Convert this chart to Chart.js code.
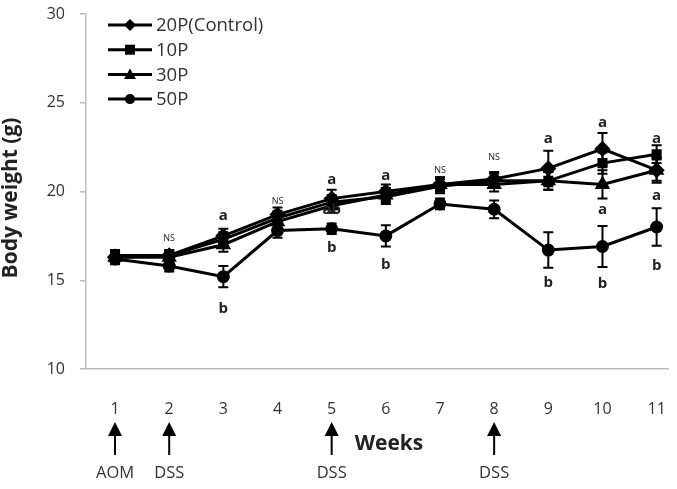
<!DOCTYPE html>
<html>
<head>
<meta charset="utf-8">
<script src="https://cdn.jsdelivr.net/npm/chart.js@4.4.0/dist/chart.umd.min.js"></script>
<style>
  html, body { margin: 0; padding: 0; background: #fff; }
  #wrap { width: 677px; height: 489px; }
</style>
</head>
<body>
<div id="wrap"><canvas id="BodyWeightChart" width="677" height="489"></canvas></div>
<script>
// weeks on the x axis
var weeks = [1, 2, 3, 4, 5, 6, 7, 8, 9, 10, 11];
var yTicks = [10, 15, 20, 25, 30];

// mean body weight (g)
var control20P = [16.3, 16.4, 17.5, 18.7, 19.6, 20.0, 20.4, 20.7, 21.3, 22.4, 21.2];
var group10P   = [16.4, 16.4, 17.3, 18.5, 19.4, 19.7, 20.3, 20.6, 20.6, 21.6, 22.1];
var group30P   = [16.3, 16.3, 17.0, 18.3, 19.2, 19.8, 20.4, 20.4, 20.6, 20.4, 21.2];
var group50P   = [16.2, 15.8, 15.2, 17.8, 17.9, 17.5, 19.3, 19.0, 16.7, 16.9, 18.0];

// error bars (g)
var err20P = [0.3, 0.3, 0.4, 0.4, 0.5, 0.4, 0.4, 0.4, 1.0, 0.9, 0.6];
var err10P = [0.3, 0.3, 0.4, 0.4, 0.4, 0.4, 0.4, 0.4, 0.5, 0.6, 0.5];
var err30P = [0.3, 0.3, 0.4, 0.4, 0.4, 0.4, 0.4, 0.4, 0.5, 0.8, 0.7];
var err50P = [0.3, 0.3, 0.6, 0.4, 0.3, 0.6, 0.3, 0.5, 1.0, 1.15, 1.05];

// significance letters: week, text, y value
var sigWeek  = [2, 3, 3, 4, 5, 5, 5, 6, 6, 7, 8, 9, 9, 10, 10, 10, 11, 11, 11];
var sigText  = ['NS', 'a', 'b', 'NS', 'a', 'ab', 'b', 'a', 'b', 'NS', 'NS', 'a', 'b', 'a', 'a', 'b', 'a', 'a', 'b'];
var sigValue = [17.35, 18.65, 13.4, 19.45, 20.65, 19.0, 16.85, 20.9, 15.9, 21.2, 21.9, 23.0, 14.85, 23.9, 19.0, 14.8, 23.0, 19.75, 15.8];

// treatment arrows under the axis
var eventWeek = [1, 2, 5, 8];
var eventText = ['AOM', 'DSS', 'DSS', 'DSS'];

var seriesNames = ['20P(Control)', '10P', '30P', '50P'];
var seriesVals = [control20P, group10P, group30P, group50P];
var seriesErr = [err20P, err10P, err30P, err50P];
var seriesMarks = ['rectRot', 'rect', 'triangle', 'circle'];
var markSize = [6, 5, 6, 5];

var FONT = '"Open Sans", "Liberation Sans", sans-serif';

var datasets = [];
for (var s = 0; s < seriesNames.length; s++) {
    datasets.push({
        label: seriesNames[s],
        data: weeks.map(function (w, i) { return { x: w, y: seriesVals[s][i] }; }),
        borderColor: '#000',
        backgroundColor: '#000',
        borderWidth: 3,
        pointStyle: seriesMarks[s],
        pointRadius: markSize[s],
        pointBackgroundColor: '#000',
        pointBorderColor: '#000',
        tension: 0,
        errors: seriesErr[s]
    });
}

function drawMark(ctx, style, x, y, r) {
    ctx.beginPath();
    if (style === 'rectRot') {
        ctx.moveTo(x, y - r); ctx.lineTo(x + r, y); ctx.lineTo(x, y + r); ctx.lineTo(x - r, y);
    } else if (style === 'rect') {
        ctx.rect(x - r, y - r, 2 * r, 2 * r);
    } else if (style === 'triangle') {
        ctx.moveTo(x, y - r); ctx.lineTo(x + r, y + r * 0.75); ctx.lineTo(x - r, y + r * 0.75);
    } else {
        ctx.arc(x, y, r, 0, Math.PI * 2);
    }
    ctx.closePath();
    ctx.fill();
}

var errorBarPlugin = {
    id: 'errorBars',
    beforeDatasetsDraw: function (chart) {
        var ctx = chart.ctx;
        var xs = chart.scales.x, ys = chart.scales.y;
        ctx.save();
        ctx.strokeStyle = '#000';
        ctx.lineWidth = 2;
        chart.data.datasets.forEach(function (ds) {
            ds.data.forEach(function (p, i) {
                var e = ds.errors[i];
                var x = xs.getPixelForValue(p.x);
                var yt = ys.getPixelForValue(p.y + e);
                var yb = ys.getPixelForValue(p.y - e);
                ctx.beginPath();
                ctx.moveTo(x, yt); ctx.lineTo(x, yb);
                ctx.moveTo(x - 5, yt); ctx.lineTo(x + 5, yt);
                ctx.moveTo(x - 5, yb); ctx.lineTo(x + 5, yb);
                ctx.stroke();
            });
        });
        ctx.restore();
    }
};

var extrasPlugin = {
    id: 'extras',
    afterDraw: function (chart) {
        var ctx = chart.ctx;
        var xs = chart.scales.x, ys = chart.scales.y;
        ctx.save();

        // significance letters
        ctx.fillStyle = '#222';
        ctx.textAlign = 'center';
        ctx.textBaseline = 'middle';
        for (var i = 0; i < sigWeek.length; i++) {
            ctx.font = sigText[i] === 'NS' ? '9px ' + FONT : 'bold 15px ' + FONT;
            ctx.fillText(sigText[i], xs.getPixelForValue(sigWeek[i]), ys.getPixelForValue(sigValue[i]));
        }

        // legend: line with marker
        ctx.textAlign = 'left';
        ctx.font = '18.5px ' + FONT;
        for (var k = 0; k < seriesNames.length; k++) {
            var ly = 25 + k * 24.7;
            ctx.strokeStyle = '#000';
            ctx.lineWidth = 3;
            ctx.beginPath();
            ctx.moveTo(108, ly); ctx.lineTo(152, ly);
            ctx.stroke();
            ctx.fillStyle = '#000';
            drawMark(ctx, seriesMarks[k], 130, ly, markSize[k]);
            ctx.fillStyle = '#333';
            ctx.fillText(seriesNames[k], 156, ly + 1);
        }

        // arrows and treatment labels
        for (var j = 0; j < eventWeek.length; j++) {
            var ax = xs.getPixelForValue(eventWeek[j]);
            ctx.strokeStyle = '#000';
            ctx.lineWidth = 2;
            ctx.beginPath();
            ctx.moveTo(ax, 433); ctx.lineTo(ax, 455);
            ctx.stroke();
            ctx.fillStyle = '#000';
            ctx.beginPath();
            ctx.moveTo(ax, 422); ctx.lineTo(ax + 7, 436); ctx.lineTo(ax - 7, 436);
            ctx.closePath();
            ctx.fill();
            ctx.fillStyle = '#333';
            ctx.textAlign = 'center';
            ctx.font = '16.5px ' + FONT;
            ctx.fillText(eventText[j], ax, 473);
        }

        ctx.font = 'bold 21px ' + FONT;
        ctx.fillStyle = '#222';
        ctx.textAlign = 'center';
        ctx.fillText('Weeks', 389, 444);

        // y axis title
        ctx.translate(11, 198);
        ctx.rotate(-Math.PI / 2);
        ctx.font = 'bold 21px ' + FONT;
        ctx.fillText('Body weight (g)', 0, 0);
        ctx.restore();
    }
};

var ctx = document.getElementById('BodyWeightChart').getContext('2d');
var myChart = new Chart(ctx, {
    type: 'line',
    data: { datasets: datasets },
    options: {
        responsive: false,
        animation: false,
        layout: { padding: { top: 14, right: 1, left: 0, bottom: 0 } },
        plugins: { legend: { display: false }, tooltip: { enabled: false } },
        scales: {
            x: {
                type: 'linear',
                min: 0.464,
                max: 11.21,
                afterBuildTicks: function (scale) {
                    scale.ticks = weeks.map(function (w) { return { value: w }; });
                },
                afterFit: function (scale) {
                    scale.height = 120;
                    scale.paddingLeft = 0; scale.paddingRight = 0;
                },
                grid: { display: true, drawOnChartArea: false, drawTicks: false },
                border: { color: '#bdbdbd', width: 1.5 },
                ticks: {
                    padding: 31,
                    color: '#333',
                    font: { family: FONT, size: 16 },
                    autoSkip: false,
                    maxRotation: 0
                }
            },
            y: {
                min: 10,
                max: 30,
                afterBuildTicks: function (scale) {
                    scale.ticks = yTicks.map(function (v) { return { value: v }; });
                },
                afterFit: function (scale) {
                    scale.width = 86;
                    scale.paddingTop = 0; scale.paddingBottom = 0;
                },
                grid: { drawOnChartArea: false, drawTicks: true, tickLength: 6, color: '#bdbdbd', lineWidth: 1.5 },
                border: { color: '#bdbdbd', width: 1.5 },
                ticks: {
                    padding: 15,
                    color: '#333',
                    font: { family: FONT, size: 16 }
                }
            }
        }
    },
    plugins: [errorBarPlugin, extrasPlugin]
});
</script>
</body>
</html>
